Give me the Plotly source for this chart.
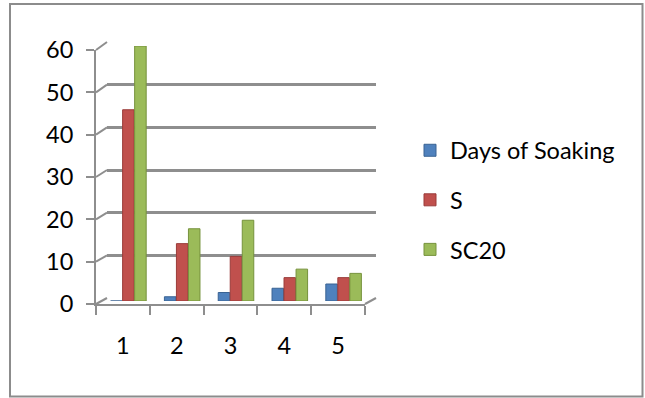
import plotly.graph_objects as go

W, H = 645, 398

categories = ["1", "2", "3", "4", "5"]
days_of_soaking = [0, 1, 2, 3, 4]
s_values = [45, 13.5, 10.5, 5.5, 5.5]
sc20_values = [60, 17, 19, 7.5, 6.5]
series_names = ["Days of Soaking", "S", "SC20"]
series_colors = ["#4F81BD", "#C0504D", "#9BBB59"]
edge_colors = ["#3A6393", "#9A3B39", "#76923C"]
y_ticks = [0, 10, 20, 30, 40, 50, 60]

FONT = "Lato"
FS = 23.5
GRID = "#8E8E8E"

def px(x):
    return x / W

def py(y):
    return 1 - y / H

back_x = [px(107), px(376)]
back_y = [py(298), py(42)]
mid_x = [px(101.5), px(370.5)]
mid_y = [py(301), py(46)]
front_x = [px(96), px(365)]
front_y = [py(304), py(50)]

fig = go.Figure()

fig.add_trace(go.Scatter(x=categories, y=[None] * 5, xaxis="x", yaxis="y",
                         showlegend=False, hoverinfo="skip"))

for name, vals, col, ecol in zip(series_names, [days_of_soaking, s_values, sc20_values],
                                 series_colors, edge_colors):
    fig.add_trace(go.Bar(x=categories, y=vals, name=name, xaxis="x2", yaxis="y2",
                         legendgroup=name,
                         marker=dict(color=col, line=dict(color=ecol, width=1))))

fig.add_trace(go.Scatter(x=categories, y=[None] * 5, xaxis="x3", yaxis="y3",
                         showlegend=False, hoverinfo="skip"))

common_x = dict(type="category", categoryorder="array", categoryarray=categories,
                range=[-0.5, 4.5], fixedrange=True, automargin=False)

fig.update_layout(
    template="none",
    width=W, height=H, autosize=False,
    margin=dict(l=0, r=0, t=0, b=0, pad=0),
    paper_bgcolor="white",
    plot_bgcolor="rgba(0,0,0,0)",
    font=dict(family=FONT, size=FS, color="black"),
    barmode="group", bargap=0.33, bargroupgap=0.04,
    xaxis=dict(domain=back_x, anchor="y", showticklabels=False, showgrid=False,
               zeroline=False, showline=False, ticks="", **common_x),
    yaxis=dict(domain=back_y, anchor="x", range=[-0.05, 60.05], tickvals=y_ticks,
               showticklabels=False, showgrid=True, gridcolor=GRID, gridwidth=2.5,
               zeroline=False, showline=False, ticks="", automargin=False),
    xaxis2=dict(domain=mid_x, anchor="y2", showticklabels=False, showgrid=False,
                zeroline=False, showline=False, ticks="", **common_x),
    yaxis2=dict(domain=mid_y, anchor="x2", range=[0, 60], showticklabels=False,
                showgrid=False, zeroline=False, showline=False, ticks="",
                automargin=False),
    xaxis3=dict(domain=front_x, anchor="y3", showgrid=False, zeroline=False,
                showline=True, linecolor=GRID, linewidth=2,
                ticks="outside", tickson="boundaries", ticklen=9, tickwidth=2,
                tickcolor=GRID, ticklabelstandoff=20,
                tickfont=dict(family=FONT, size=FS), **common_x),
    yaxis3=dict(domain=front_y, anchor="x3", range=[0, 60], tickvals=y_ticks,
                showgrid=False, zeroline=False, showline=True, linecolor=GRID,
                linewidth=2, ticks="outside", ticklen=8, tickwidth=2, tickcolor=GRID,
                ticklabelstandoff=8, tickfont=dict(family=FONT, size=FS),
                automargin=False),
    legend=dict(x=px(410), y=py(200), xanchor="left", yanchor="middle",
                traceorder="grouped", tracegroupgap=16,
                font=dict(family=FONT, size=FS), bgcolor="rgba(0,0,0,0)",
                borderwidth=0, itemwidth=30),
    showlegend=True,
)

shapes = []

def fy(v):
    return front_y[0] + v / 60 * (front_y[1] - front_y[0])

def by(v):
    return back_y[0] + v / 60 * (back_y[1] - back_y[0])

for v in y_ticks:
    shapes.append(dict(type="line", xref="paper", yref="paper",
                       x0=front_x[0], y0=fy(v), x1=back_x[0], y1=by(v),
                       line=dict(color=GRID, width=2)))
shapes.append(dict(type="line", xref="paper", yref="paper",
                   x0=front_x[1], y0=fy(0), x1=back_x[1], y1=by(0),
                   line=dict(color=GRID, width=2)))
shapes.append(dict(type="rect", xref="paper", yref="paper",
                   x0=px(10), y0=py(396.5), x1=px(642.5), y1=py(4),
                   line=dict(color="#8C8C8C", width=2)))
fig.update_layout(shapes=shapes)

fig.write_html("out.html")
